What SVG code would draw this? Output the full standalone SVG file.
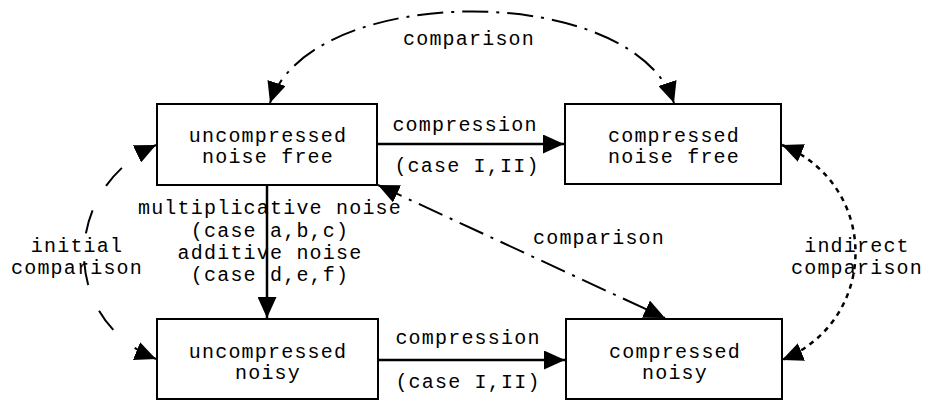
<svg xmlns="http://www.w3.org/2000/svg" width="926" height="401" viewBox="0 0 926 401">
  <style>
    .box { fill: #ffffff; stroke: #000000; stroke-width: 2; }
    .t { font-family: "Liberation Mono", "Courier New", monospace; font-size: 20px; letter-spacing: 1.2px; text-anchor: middle; fill: #000000; }
    .edge { fill: none; stroke: #000000; stroke-width: 2; }
    .solid { stroke-width: 2.5; }
    .dashdot { stroke-dasharray: 26 8 3 8; }
    .longdash { stroke-dasharray: 24 28; }
    .dotted { stroke-dasharray: 5 5; stroke-width: 2.5; }
  </style>
  <defs>
    <marker id="ah" markerUnits="userSpaceOnUse" markerWidth="21" markerHeight="19" refX="21" refY="9.5" orient="auto-start-reverse" viewBox="0 0 21 19">
      <path d="M0,0 L21,9.5 L0,19 Z" fill="#000000"/>
    </marker>
  </defs>
  <rect width="926" height="401" fill="#ffffff"/>

  <g id="connectors">
    <path class="edge solid" d="M377,144 L564,144" marker-end="url(#ah)"/>
    <path class="edge solid" d="M378,360 L565,360" marker-end="url(#ah)"/>
    <path class="edge solid" d="M267,185 L267,318" marker-end="url(#ah)"/>
    <path class="edge dashdot" d="M270,103 C310,-19 634,-19 674,103" marker-start="url(#ah)" marker-end="url(#ah)"/>
    <path class="edge dashdot" d="M378,185 L665,318" marker-start="url(#ah)" marker-end="url(#ah)"/>
    <path class="edge longdash" d="M156,359 C60,320 60,190 156,145" marker-start="url(#ah)" marker-end="url(#ah)"/>
    <path class="edge dotted" d="M782,145 C880,185 880,320 782,360" marker-start="url(#ah)" marker-end="url(#ah)"/>

    <text class="t" x="465" y="131">compression</text>
    <text class="t" x="467" y="172">(case I,II)</text>
    <text class="t" x="468" y="344">compression</text>
    <text class="t" x="468" y="388">(case I,II)</text>
    <text class="t" x="469" y="45">comparison</text>
    <text class="t" x="599" y="244">comparison</text>
    <text class="t" x="270" y="214">multiplicative noise</text>
    <text class="t" x="270" y="237">(case a,b,c)</text>
    <text class="t" x="270" y="259">additive noise</text>
    <text class="t" x="270" y="281">(case d,e,f)</text>
    <text class="t" x="77" y="252">initial</text>
    <text class="t" x="77" y="274">comparison</text>
    <text class="t" x="857" y="252">indirect</text>
    <text class="t" x="857" y="274">comparison</text>
  </g>

  <g id="node-uncompressed-noise-free">
    <rect class="box" x="157" y="104" width="220" height="81"/>
    <text class="t" x="268" y="142">uncompressed</text>
    <text class="t" x="268" y="163">noise free</text>
  </g>
  <g id="node-compressed-noise-free">
    <rect class="box" x="565" y="104" width="216" height="80"/>
    <text class="t" x="674" y="142">compressed</text>
    <text class="t" x="674" y="163">noise free</text>
  </g>
  <g id="node-uncompressed-noisy">
    <rect class="box" x="157" y="319" width="221" height="80"/>
    <text class="t" x="268" y="358">uncompressed</text>
    <text class="t" x="268" y="379">noisy</text>
  </g>
  <g id="node-compressed-noisy">
    <rect class="box" x="566" y="319" width="216" height="80"/>
    <text class="t" x="675" y="358">compressed</text>
    <text class="t" x="675" y="379">noisy</text>
  </g>
</svg>
